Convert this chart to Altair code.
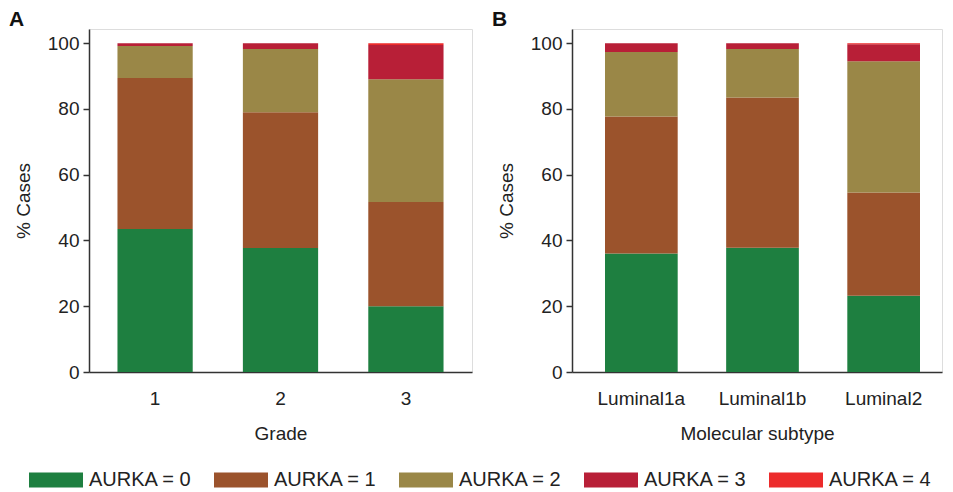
import altair as alt
import pandas as pd

levels = ["AURKA = 0", "AURKA = 1", "AURKA = 2", "AURKA = 3", "AURKA = 4"]
colors = ["#1e7f40", "#9b532c", "#9a8747", "#b81f37", "#ec2b2b"]

grades = ["1", "2", "3"]
grade_a0 = [43.5, 37.7, 20.0]
grade_a1 = [45.9, 41.3, 31.7]
grade_a2 = [9.7, 19.2, 37.3]
grade_a3 = [0.9, 1.8, 10.4]
grade_a4 = [0.0, 0.0, 0.6]

subtypes = ["Luminal1a", "Luminal1b", "Luminal2"]
sub_a0 = [36.0, 37.8, 23.2]
sub_a1 = [41.7, 45.7, 31.4]
sub_a2 = [19.6, 14.7, 39.9]
sub_a3 = [2.7, 1.8, 5.2]
sub_a4 = [0.0, 0.0, 0.3]


def frame(cats, series):
    rows = []
    for k, vals in enumerate(series):
        for c, v in zip(cats, vals):
            rows.append({"cat": c, "level": levels[k], "k": k, "value": v})
    return pd.DataFrame(rows)


dfA = frame(grades, [grade_a0, grade_a1, grade_a2, grade_a3, grade_a4])
dfB = frame(subtypes, [sub_a0, sub_a1, sub_a2, sub_a3, sub_a4])

FONT = "Liberation Sans"
FS = 19

color = alt.Color(
    "level:N",
    scale=alt.Scale(domain=levels, range=colors),
    legend=alt.Legend(
        title=None,
        orient="none",
        legendX=-48,
        legendY=436,
        direction="horizontal",
        symbolType="M-1.8,-0.5H1.8V0.5H-1.8Z",
        symbolSize=900,
        symbolStrokeWidth=0,
        symbolOpacity=1,
        labelFontSize=20,
        labelFont=FONT,
        labelColor="#222",
        labelOffset=18,
        columnPadding=22,
    ),
)

yaxis = alt.Axis(
    values=[0, 20, 40, 60, 80, 100],
    title="% Cases",
    titleFontSize=FS,
    titleFontWeight="normal",
    titleFont=FONT,
    titleColor="#222",
    titlePadding=14,
    labelFontSize=FS,
    labelFont=FONT,
    labelColor="#222",
    labelPadding=4,
    tickSize=6,
    tickColor="#333",
    tickWidth=1.5,
    domainColor="#333",
    domainWidth=1.5,
    grid=False,
)


def panel(df, cats, xtitle, letter, width, align):
    return (
        alt.Chart(df)
        .mark_bar()
        .encode(
            x=alt.X(
                "cat:N",
                sort=cats,
                scale=alt.Scale(paddingInner=0.4, paddingOuter=0.227, align=align),
                axis=alt.Axis(
                    title=xtitle,
                    labelAngle=0,
                    labelFontSize=FS,
                    labelFont=FONT,
                    labelColor="#222",
                    labelPadding=17,
                    ticks=False,
                    domainColor="#333",
                    domainWidth=1.5,
                    titleFontSize=FS,
                    titleFontWeight="normal",
                    titleFont=FONT,
                    titleColor="#222",
                    titlePadding=16,
                ),
            ),
            y=alt.Y(
                "value:Q",
                stack="zero",
                scale=alt.Scale(domain=[0, 104.3], nice=False, zero=True),
                axis=yaxis,
            ),
            color=color,
            order=alt.Order("k:Q", sort="ascending"),
        )
        .properties(
            width=width,
            height=343,
            title=alt.TitleParams(
                letter,
                anchor="start",
                frame="group",
                fontSize=21,
                fontWeight="bold",
                font=FONT,
                color="#111",
                dx=-80,
                offset=-1,
            ),
        )
    )


chartA = panel(dfA, grades, "Grade", "A", 383, 0.5)
chartB = panel(dfB, subtypes, "Molecular subtype", "B", 370, 0.6)

chart = (
    alt.hconcat(chartA, chartB, spacing=18)
    .properties(padding={"left": 0, "top": 0, "right": 0, "bottom": 0})
    .configure_view(stroke="#333", strokeWidth=1.5)
    .configure(background="white")
)

chart.save("out.html", embed_options={"renderer": "svg", "actions": False})
